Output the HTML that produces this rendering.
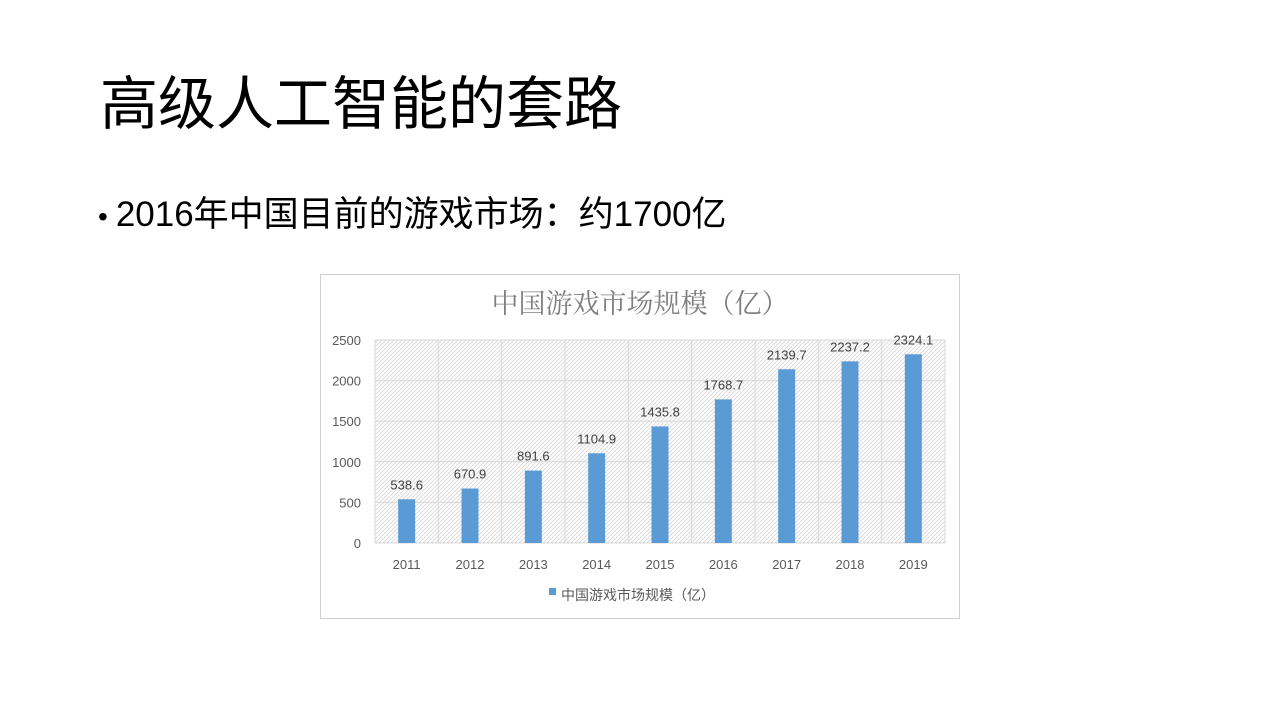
<!DOCTYPE html>
<html><head><meta charset="utf-8"><style>
body{margin:0;width:1280px;height:720px;background:#fff;position:relative;overflow:hidden;font-family:"Liberation Sans","Noto Sans CJK SC",sans-serif;}
#title{position:absolute;left:100px;top:68px;font-size:58px;color:#000;line-height:74px;white-space:nowrap;}
#bullet{position:absolute;left:98px;top:192px;font-size:35px;color:#000;line-height:46px;white-space:nowrap;}
#chart{position:absolute;left:320px;top:274px;}
</style></head><body>
<div id="title">高级人工智能的套路</div>
<div id="bullet"><span style="font-size:28px;margin-right:8px">•</span>2016年中国目前的游戏市场：约1700亿</div>
<svg id="chart" width="640" height="345" xmlns="http://www.w3.org/2000/svg"></svg>
<script>
const categories=["2011","2012","2013","2014","2015","2016","2017","2018","2019"];
const values=[538.6,670.9,891.6,1104.9,1435.8,1768.7,2139.7,2237.2,2324.1];
const yTicks=[0,500,1000,1500,2000,2500];
const NS="http://www.w3.org/2000/svg";
const svg=document.getElementById('chart');
const L=55,R=625,T=66,B=269,yMax=2500;
const xBand=(R-L)/categories.length;
const xC=i=>L+xBand*(i+0.5);
const yS=v=>B-(v/yMax)*(B-T);
function mk(tag,attrs,parent){const e=document.createElementNS(NS,tag);for(const k in attrs)e.setAttribute(k,attrs[k]);(parent||svg).appendChild(e);return e;}
const defs=mk('defs',{});
const pat=mk('pattern',{id:'hatch',width:4,height:4,patternUnits:'userSpaceOnUse'},defs);
mk('path',{d:'M-1,1 l2,-2 M0,4 l4,-4 M3,5 l2,-2',stroke:'#dcdcdc','stroke-width':1},pat);
const border=mk('rect',{x:0.5,y:0.5,width:639,height:344,fill:'#fff',stroke:'#d0d0d0'});


const plot=mk('rect',{x:L,y:T,width:R-L,height:B-T,fill:'url(#hatch)'});


yTicks.forEach(t=>{
 const g=mk('line',{x1:L,x2:R,y1:yS(t),y2:yS(t),stroke:'#d9d9d9'});
 
 
 const lb=mk('text',{x:L-14,y:yS(t)+5,'text-anchor':'end','font-size':13,fill:'#595959'});
 lb.textContent=t;
 
 
});
for(let i=0;i<=categories.length;i++){
 const v=mk('line',{x1:L+xBand*i,x2:L+xBand*i,y1:T,y2:B,stroke:'#d9d9d9'});
 
 
}
categories.forEach((c,i)=>{
 const bw=17;
 const b=mk('rect',{x:xC(i)-bw/2,y:yS(values[i]),width:bw,height:B-yS(values[i]),fill:'#5b9bd5'});
 
 
 const vl=mk('text',{x:xC(i),y:yS(values[i])-10,'text-anchor':'middle','font-size':13,fill:'#404040'});
 vl.textContent=values[i];
 
 
 const xl=mk('text',{x:xC(i),y:B+26,'text-anchor':'middle','font-size':13,fill:'#595959'});
 xl.textContent=c;
 
 
});
const ttl=mk('text',{x:320,y:39,'text-anchor':'middle','font-size':27,fill:'#7f7f7f','font-family':'"Noto Serif CJK SC","Noto Sans CJK SC",serif'});
ttl.textContent='中国游戏市场规模（亿）';


const ls=mk('rect',{x:229,y:314,width:7,height:7,fill:'#5b9bd5'});


const lt=mk('text',{x:241,y:326,'font-size':14,fill:'#595959'});
lt.textContent='中国游戏市场规模（亿）';


</script>
</body></html>
